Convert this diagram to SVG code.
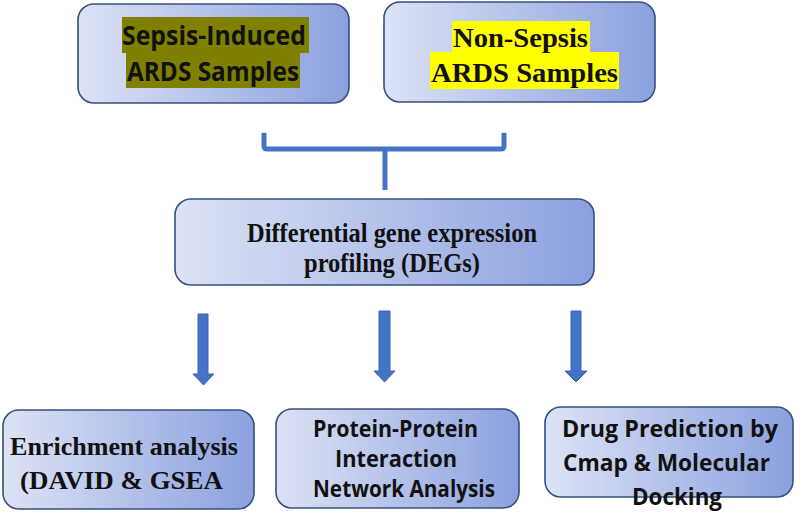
<svg xmlns="http://www.w3.org/2000/svg" width="800" height="512" viewBox="0 0 800 512">
<defs>
<linearGradient id="g" x1="0" y1="0" x2="1" y2="0">
<stop offset="0" stop-color="#dde3f5"/>
<stop offset="1" stop-color="#8ba0de"/>
</linearGradient>
<style>
.box{fill:url(#g);stroke:#34507e;stroke-width:1.6}
.s{font-family:"Open Sans","Liberation Sans",sans-serif;font-weight:bold;fill:#111}
.t{font-family:"Liberation Serif","Times New Roman",serif;font-weight:bold;fill:#111}
.arrow{fill:#4472c4;stroke:#3a64b0;stroke-width:1}
.br{fill:none;stroke:#4472c4;stroke-width:5;stroke-linejoin:round;stroke-linecap:butt}
</style>
</defs>
<rect width="800" height="512" fill="#fff"/>
<g id="node-sepsis">
<rect class="box" x="78" y="4" width="271" height="99" rx="16"/>
<rect x="122" y="17" width="187" height="36" fill="#808000"/>
<rect x="126" y="52" width="174" height="36" fill="#808000"/>
<text class="s" x="122" y="45" font-size="27" textLength="184" lengthAdjust="spacingAndGlyphs">Sepsis-Induced</text>
<text class="s" x="127" y="81" font-size="27" textLength="172" lengthAdjust="spacingAndGlyphs">ARDS Samples</text>
</g>
<g id="node-nonsepsis">
<rect class="box" x="384" y="2" width="271" height="100" rx="16"/>
<rect x="452" y="21" width="138" height="32" fill="#ffff00"/>
<rect x="430" y="52" width="189" height="37" fill="#ffff00"/>
<text class="t" x="453" y="47" font-size="28" textLength="135" lengthAdjust="spacingAndGlyphs">Non-Sepsis</text>
<text class="t" x="431" y="82" font-size="28" textLength="187" lengthAdjust="spacingAndGlyphs">ARDS Samples</text>
</g>
<g id="node-deg">
<rect class="box" x="175" y="199" width="419" height="86" rx="16"/>
<text class="t" x="247" y="242" font-size="27" textLength="290" lengthAdjust="spacingAndGlyphs">Differential gene expression</text>
<text class="t" x="392" y="272" font-size="27" text-anchor="middle" textLength="176" lengthAdjust="spacingAndGlyphs">profiling (DEGs)</text>
</g>
<g id="node-enrichment">
<rect class="box" x="3" y="410" width="251" height="99" rx="16"/>
<text class="t" x="10" y="455" font-size="25" textLength="228" lengthAdjust="spacingAndGlyphs">Enrichment analysis</text>
<text class="t" x="20" y="489" font-size="25" textLength="203" lengthAdjust="spacingAndGlyphs">(DAVID &amp; GSEA</text>
</g>
<g id="node-ppi">
<rect class="box" x="276" y="409" width="243" height="99" rx="16"/>
<text class="s" x="313" y="437" font-size="23" textLength="165" lengthAdjust="spacingAndGlyphs">Protein-Protein</text>
<text class="s" x="396" y="467" font-size="23" text-anchor="middle" textLength="122" lengthAdjust="spacingAndGlyphs">Interaction</text>
<text class="s" x="313" y="497" font-size="23" textLength="182" lengthAdjust="spacingAndGlyphs">Network Analysis</text>
</g>
<g id="node-drug">
<rect class="box" x="545" y="407" width="248" height="90" rx="16"/>
<text class="s" x="562" y="437" font-size="24" textLength="216" lengthAdjust="spacingAndGlyphs">Drug Prediction by</text>
<text class="s" x="563" y="471" font-size="24" textLength="207" lengthAdjust="spacingAndGlyphs">Cmap &amp; Molecular</text>
<text class="s" x="677" y="505" font-size="24" text-anchor="middle" textLength="90" lengthAdjust="spacingAndGlyphs">Docking</text>
</g>
<g id="connectors">
<path class="br" d="M264,133 V146 Q264,149 267,149 H501 Q504,149 504,146 V133"/>
<path class="br" d="M385,149 V190"/>
<path class="arrow" d="M198,314 H208 V374 H214 L203.5,385 L193,374 H198 Z"/>
<path class="arrow" d="M379,311 H390 V371 H395 L384.5,382 L374,371 H379 Z"/>
<path class="arrow" d="M571,311 H581 V371 H587 L576,382 L565,371 H571 Z"/>
</g>
</svg>
